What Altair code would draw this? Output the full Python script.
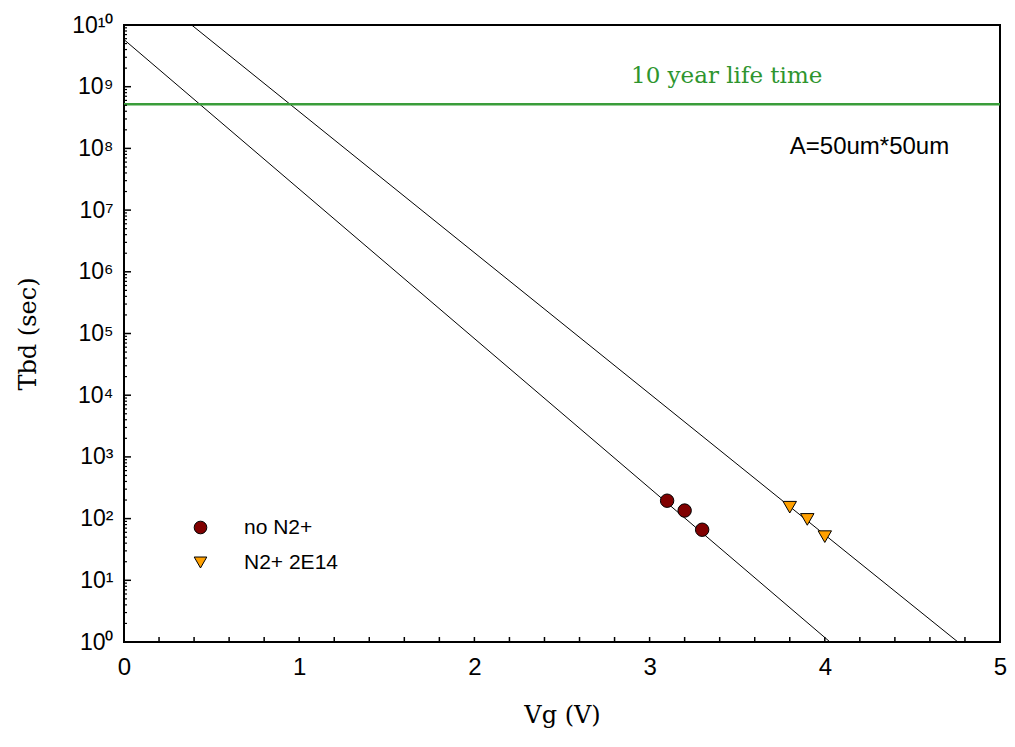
import altair as alt
import pandas as pd

# ---- data ----
VG_NO_N2 = [3.1, 3.2, 3.3]
TBD_NO_N2 = [195, 135, 66]
VG_N2 = [3.8, 3.9, 4.0]
TBD_N2 = [153, 97, 51]
SERIES = ["no N2+", "N2+ 2E14"]

# fitted lines (end points)
FIT_NO_N2_VG = [0.0, 4.03]
FIT_NO_N2_TBD = [5.8e9, 1.0]
FIT_N2_VG = [0.386, 4.76]
FIT_N2_TBD = [1.0e10, 1.0]

LIFETIME = 5.2e8
LIFETIME_LABEL = "10 year life time"
AREA_LABEL = "A=50um*50um"

X_TICKS = [0, 1, 2, 3, 4, 5]
X_MINOR_TICKS = [0.2, 0.4, 0.6, 0.8, 1.0, 1.2, 1.4, 1.6, 1.8, 2.0, 2.2, 2.4, 2.6, 2.8,
                 3.0, 3.2, 3.4, 3.6, 3.8, 4.0, 4.2, 4.4, 4.6, 4.8]
Y_TICKS = [1, 1e1, 1e2, 1e3, 1e4, 1e5, 1e6, 1e7, 1e8, 1e9, 1e10]
Y_TICK_LABELS = ["10⁰", "10¹", "10²", "10³", "10⁴", "10⁵", "10⁶", "10⁷", "10⁸", "10⁹", "10¹⁰"]
Y_MAJOR_TICKS = [1e1, 1e2, 1e3, 1e4, 1e5, 1e6, 1e7, 1e8, 1e9]
Y_MINOR_TICKS = [k * d for d in [1, 1e1, 1e2, 1e3, 1e4, 1e5, 1e6, 1e7, 1e8, 1e9] for k in range(2, 10)]

W, H = 876, 617
SANS = "Liberation Sans, Arial, sans-serif"
SERIF = "DejaVu Serif, serif"

points = pd.DataFrame({
    "Vg": VG_NO_N2 + VG_N2,
    "Tbd": TBD_NO_N2 + TBD_N2,
    "series": [SERIES[0]] * len(VG_NO_N2) + [SERIES[1]] * len(VG_N2),
})
fits = pd.DataFrame({
    "Vg": FIT_NO_N2_VG + FIT_N2_VG,
    "Tbd": FIT_NO_N2_TBD + FIT_N2_TBD,
    "fit": ["a", "a", "b", "b"],
})

label_js = "[" + ",".join("'" + s + "'" for s in Y_TICK_LABELS) + "]"

x_scale = alt.Scale(domain=[0, 5], nice=False, zero=False)
y_scale = alt.Scale(type="log", domain=[1, 1e10], nice=False)

x_axis = alt.Axis(values=X_TICKS, ticks=False, domain=False, grid=False, format="d",
                  labelFlush=False, labelOverlap=False,
                  labelFont=SANS, labelFontSize=24, labelColor="black", labelPadding=13,
                  title="Vg (V)", titleFont=SERIF, titleFontSize=24, titleFontWeight="normal",
                  titleColor="black", titlePadding=24)
y_axis = alt.Axis(values=Y_TICKS, ticks=False, domain=False, grid=False,
                  labelFlush=False, labelOverlap=False,
                  labelExpr=label_js + "[round(log(datum.value)/LN10)]",
                  labelFont=SANS, labelFontSize=23, labelColor="black", labelPadding=11,
                  title="Tbd (sec)", titleFont=SERIF, titleFontSize=24, titleFontWeight="normal",
                  titleColor="black", titlePadding=31)

X = alt.X("Vg:Q", scale=x_scale, axis=x_axis)
Y = alt.Y("Tbd:Q", scale=y_scale, axis=y_axis)

lines = alt.Chart(fits).mark_line(color="black", strokeWidth=1, clip=True).encode(
    x=X, y=Y, detail="fit:N",
)

life = alt.Chart(pd.DataFrame({"Tbd": [LIFETIME]})).mark_rule(color="#3a9d3a", strokeWidth=2.5).encode(
    y=Y,
)

life_text = alt.Chart(pd.DataFrame({"Vg": [3.44], "Tbd": [1.5e9], "t": [LIFETIME_LABEL]})).mark_text(
    font=SERIF, fontSize=23, color="#2e952e", align="center", baseline="middle"
).encode(x=X, y=Y, text="t:N")

area_text = alt.Chart(pd.DataFrame({"Vg": [4.255], "Tbd": [1.07e8], "t": [AREA_LABEL]})).mark_text(
    font=SANS, fontSize=24, color="black", align="center", baseline="middle"
).encode(x=X, y=Y, text="t:N")

legend = alt.Legend(title=None, orient="none", legendX=66, legendY=492,
                    labelFont=SANS, labelFontSize=21,
                    labelColor="black", symbolSize=160, symbolStrokeColor="black",
                    symbolStrokeWidth=1, rowPadding=13, labelOffset=33, padding=0)

pts = alt.Chart(points).mark_point(filled=True, stroke="black", strokeWidth=1, opacity=1, size=180).encode(
    x=X, y=Y,
    color=alt.Color("series:N", scale=alt.Scale(domain=SERIES, range=["#800000", "#ffa000"]), legend=legend),
    shape=alt.Shape("series:N", scale=alt.Scale(domain=SERIES, range=["circle", "triangle-down"]), legend=legend),
)

xticks = alt.Chart(pd.DataFrame({"Vg": X_MINOR_TICKS})).mark_rule(color="black", strokeWidth=1.5).encode(
    x=X, y=alt.value(H), y2=alt.value(H - 5),
)
yticks_major = alt.Chart(pd.DataFrame({"Tbd": Y_MAJOR_TICKS})).mark_rule(color="black", strokeWidth=1.5).encode(
    y=Y, x=alt.value(0), x2=alt.value(7),
)
yticks_minor = alt.Chart(pd.DataFrame({"Tbd": Y_MINOR_TICKS})).mark_rule(color="black", strokeWidth=1.2).encode(
    y=Y, x=alt.value(0), x2=alt.value(3),
)

chart = alt.layer(lines, life, life_text, area_text, xticks, yticks_major, yticks_minor, pts).properties(
    width=W, height=H,
    autosize="none",
    background="white",
    padding={"left": 116, "top": 17, "right": 7, "bottom": 92},
).configure_view(stroke="black", strokeWidth=2)

chart.save("out.html", embed_options={"renderer": "svg", "actions": False})
